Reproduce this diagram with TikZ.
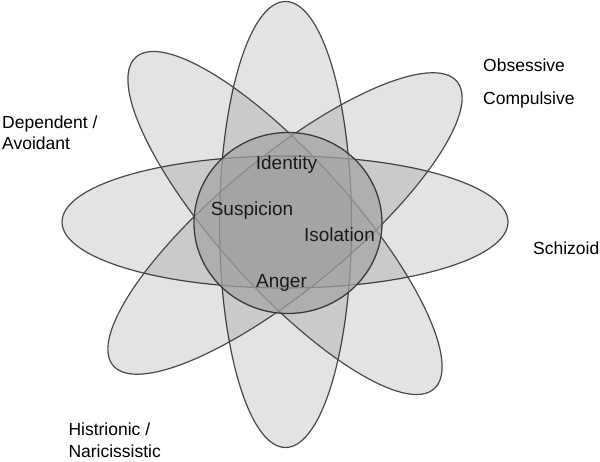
\documentclass[tikz,border=0pt]{standalone}
\usepackage{fontspec}
\setmainfont{Liberation Sans}
\usetikzlibrary{shapes.geometric}
\definecolor{petalline}{HTML}{484848}
\definecolor{coregray}{HTML}{A6A6A6}
\tikzset{
  petal/.style={ellipse,draw=petalline,line width=1.2pt,fill=black,fill opacity=0.11,draw opacity=1,minimum width=446pt,minimum height=132pt,inner sep=0pt,outer sep=0pt},
  core/.style={ellipse,draw=petalline!80!black,line width=1.3pt,fill=coregray,fill opacity=0.72,draw opacity=1,minimum width=188pt,minimum height=181pt,inner sep=0pt},
  themelbl/.style={anchor=base,inner sep=0pt,font=\fontsize{19}{23}\selectfont,text=black!90},
  typelbl/.style={anchor=base west,align=left,inner sep=0pt,font=\fontsize{17.5}{21.7}\selectfont},
}

\begin{document}
\begin{tikzpicture}[x=1pt,y=1pt]
  \useasboundingbox (0,0) rectangle (600,461);
  % petals
  \node[petal] (pSchiz) at (285,239) {};
  \node[petal,rotate=90] (pHisTop) at (285.5,236.5) {};
  \node[petal,rotate=39.5] (pObs) at (285,237.5) {};
  \node[petal,rotate=132] (pDep) at (285,238) {};
  \node[core] (core) at (288,238) {};
  % themes
  \node[themelbl] (tIdentity) at (286.5,291) {Identity};
  \node[themelbl] (tSuspicion) at (252,245) {Suspicion};
  \node[themelbl] (tIsolation) at (339.5,219.5) {Isolation};
  \node[themelbl] (tAnger) at (281.5,173) {Anger};
  % types (base = last line)
  \node[typelbl] (lDep) at (2,311) {Dependent /\\Avoidant};
  \node[typelbl] (lObs) at (483,356) {Obsessive\\[11.6pt]Compulsive};
  \node[typelbl] (lSchiz) at (533,206) {Schizoid};
  \node[typelbl] (lHist) at (68.3,3.5) {Histrionic /\\Naricissistic};
\end{tikzpicture}
\end{document}
